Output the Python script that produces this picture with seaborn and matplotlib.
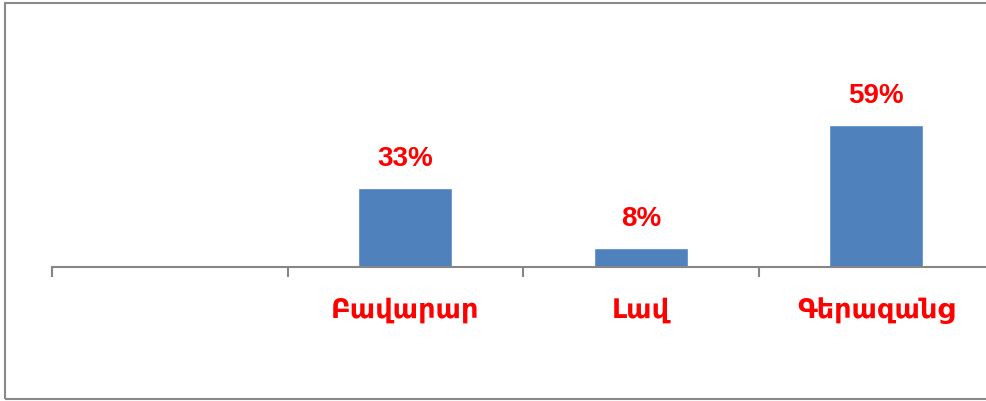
import numpy as np
import pandas as pd
import seaborn as sns
import matplotlib.pyplot as plt
from matplotlib.patches import Rectangle

# chart data
categories = ["", "Բավարար", "Լավ", "Գերազանց"]
shares = [np.nan, 33, 8, 59]

BAR_COLOR = "#4F81BD"
AXIS_COLOR = "#868686"
LABEL_COLOR = "#FF0000"

df = pd.DataFrame({"category": categories, "share": shares})

sns.set_style("white")
plt.rcParams["font.family"] = ["DejaVu Sans"]

fig = plt.figure(figsize=(9.86, 4.01), dpi=100)
# axes spans past the right edge like the cropped original
ax = fig.add_axes([52 / 986, 134 / 401, 942 / 986, 247 / 401])

sns.barplot(data=df, x="category", y="share", order=categories,
            color=BAR_COLOR, width=0.4, saturation=1, ax=ax)

ax.set_xlim(-0.5, len(categories) - 0.5)
ax.set_ylim(0, 102.6)
ax.set_xlabel("")
ax.set_ylabel("")
ax.set_yticks([])

for side in ["top", "right", "left"]:
    ax.spines[side].set_visible(False)
ax.spines["bottom"].set_color(AXIS_COLOR)
ax.spines["bottom"].set_linewidth(1.5)

# category separators as minor ticks, labels on the majors
ax.set_xticks(np.arange(len(categories) + 1) - 0.5, minor=True)
ax.tick_params(axis="x", which="minor", length=7, width=1.5,
               color=AXIS_COLOR, bottom=True)
ax.tick_params(axis="x", which="major", length=0, pad=22)
for lbl in ax.get_xticklabels():
    lbl.set_color(LABEL_COLOR)
    lbl.set_fontweight("bold")
    lbl.set_fontsize(19.5)

for i, v in enumerate(shares):
    if np.isnan(v):
        continue
    ax.annotate(f"{v:.0f}%", (i, v), xytext=(0, 11.5), textcoords="offset points",
                ha="center", va="bottom", color=LABEL_COLOR, fontsize=20,
                fontweight="bold", family=["Liberation Sans", "DejaVu Sans"])

# outer frame of the chart area
fig.patches.append(Rectangle((5 / 986, 2 / 401), 1.0, 396 / 401,
                             transform=fig.transFigure, fill=False,
                             edgecolor="#898989", linewidth=1.5))

plt.savefig("out.png", dpi=100)
